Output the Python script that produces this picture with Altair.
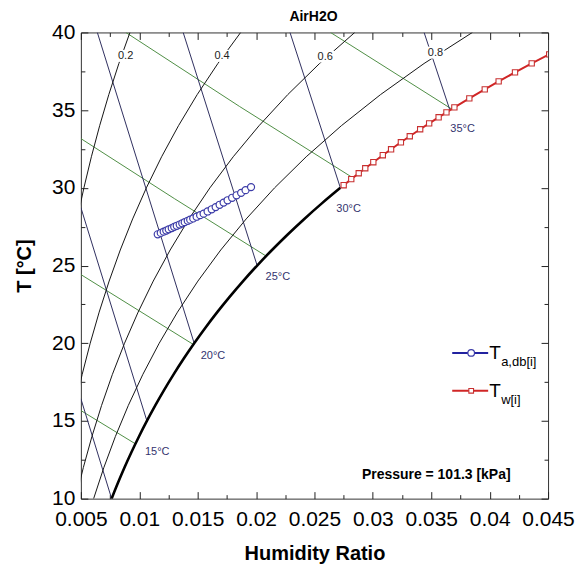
import altair as alt
import pandas as pd

FONT = "Liberation Sans"

# ---------------- data (read / estimated from the reference) ----------------
T_grid = [10, 12, 14, 16, 18, 20, 22, 24, 26, 28, 30, 32, 34, 36, 38, 40]
rh20_w = [0.001512, 0.001727, 0.001970, 0.002242, 0.002546, 0.002886, 0.003266, 0.003688,
          0.004159, 0.004681, 0.005260, 0.005900, 0.006609, 0.007391, 0.008253, 0.009203]
rh40_w = [0.003031, 0.003465, 0.003952, 0.004499, 0.005113, 0.005799, 0.006566, 0.007421,
          0.008373, 0.009433, 0.010609, 0.011914, 0.013360, 0.014960, 0.016729, 0.018683]
rh60_w = [0.004558, 0.005211, 0.005947, 0.006774, 0.007701, 0.008739, 0.009901, 0.011198,
          0.012645, 0.014257, 0.016050, 0.018044, 0.020257, 0.022713, 0.025435, 0.028452]
rh80_w = [0.006092, 0.006968, 0.007955, 0.009064, 0.010310, 0.011707, 0.013271, 0.015021,
          0.016975, 0.019155, 0.021586, 0.024293, 0.027306, 0.030657, 0.034382, 0.038524]

sat_T = [10, 11, 12, 13, 14, 15, 16, 17, 18, 19, 20, 21, 22, 23, 24, 25, 26, 27, 28, 29, 30]
sat_w = [0.007634, 0.008168, 0.008734, 0.009337, 0.009976, 0.010653, 0.011372, 0.012134,
         0.012941, 0.013797, 0.014703, 0.015663, 0.016678, 0.017753, 0.018890, 0.020093,
         0.021364, 0.022709, 0.024130, 0.025632, 0.027218]

# wet-bulb lines (navy)
wb10_w, wb10_T = [0.007634, 0.005], [10, 16.43]
wb15_w, wb15_T = [0.010653, 0.005], [15, 28.73]
wb20_w, wb20_T = [0.014703, 0.006409], [20, 40]
wb25_w, wb25_T = [0.020093, 0.013758], [25, 40]
wb30_w, wb30_T = [0.027218, 0.022905], [30, 40]
wb35_w, wb35_T = [0.036597, 0.034386], [35, 40]

# specific-volume lines (green)
v0825_w, v0825_T = [0.005, 0.00966], [15.67, 13.53]
v0850_w, v0850_T = [0.005, 0.01463], [24.42, 19.92]
v0875_w, v0875_T = [0.005, 0.013, 0.02086], [33.17, 29.31, 25.61]
v0900_w, v0900_T = [0.008848, 0.0186, 0.02830], [40, 35.23, 30.64]
v0925_w, v0925_T = [0.026372, 0.03675], [40, 35.07]

# series T_a,db[i]
blue_w = [0.01158, 0.01184, 0.01209, 0.01231, 0.01252, 0.01278, 0.01299, 0.01321, 0.01346,
          0.01368, 0.01389, 0.01415, 0.01436, 0.01462, 0.01491, 0.01521, 0.01551, 0.01585,
          0.01620, 0.01654, 0.01688, 0.01722, 0.01756, 0.01795, 0.01833, 0.01872, 0.01910,
          0.01957]
blue_T = [27.01, 27.10, 27.18, 27.25, 27.33, 27.41, 27.49, 27.56, 27.64, 27.72, 27.79, 27.88,
          27.95, 28.03, 28.14, 28.24, 28.34, 28.48, 28.62, 28.76, 28.91, 29.05, 29.20, 29.36,
          29.52, 29.68, 29.85, 30.05]

# series T_w[i]
red_T = [30.17, 30.56, 30.94, 31.26, 31.65, 32.10, 32.48, 32.93, 33.32, 33.77, 34.15, 34.54,
         34.86, 35.18, 35.76, 36.34, 36.85, 37.43, 38.01, 38.59]
red_w = [0.02750, 0.02815, 0.02879, 0.02935, 0.03004, 0.03085, 0.03156, 0.03240, 0.03316,
         0.03405, 0.03482, 0.03563, 0.03630, 0.03698, 0.03826, 0.03958, 0.04077, 0.04217,
         0.04360, 0.04510]

rh_labels = ["0.2", "0.4", "0.6", "0.8"]
rh_label_w = [0.00883, 0.01709, 0.02592, 0.03536]
rh_label_T = [38.49, 38.49, 38.45, 38.70]

wb_labels = ["15°C", "20°C", "25°C", "30°C", "35°C"]
wb_label_w = [0.01154, 0.01631, 0.02186, 0.02792, 0.03768]
wb_label_T = [12.99, 19.17, 24.23, 28.62, 33.76]

x_major = [0.005, 0.01, 0.015, 0.02, 0.025, 0.03, 0.035, 0.04, 0.045]
x_minor = [0.0075, 0.0125, 0.0175, 0.0225, 0.0275, 0.0325, 0.0375, 0.0425]
y_major = [10, 15, 20, 25, 30, 35, 40]
y_minor = [12.5, 17.5, 22.5, 27.5, 32.5, 37.5]


# ---------------- helpers ----------------
def curve(name, ws, ts):
    return pd.DataFrame({"w": ws, "T": ts, "curve": name, "i": list(range(len(ws)))})


xs = alt.Scale(domain=[0.005, 0.045], nice=False, zero=False)
ys = alt.Scale(domain=[10, 40], nice=False, zero=False)


def xy(ax=None, ay=None):
    return dict(x=alt.X("w:Q", scale=xs, axis=ax), y=alt.Y("T:Q", scale=ys, axis=ay))


rh_df = pd.concat([curve("rh20", rh20_w, T_grid), curve("rh40", rh40_w, T_grid),
                   curve("rh60", rh60_w, T_grid), curve("rh80", rh80_w, T_grid)])
wb_df = pd.concat([curve("wb10", wb10_w, wb10_T), curve("wb15", wb15_w, wb15_T),
                   curve("wb20", wb20_w, wb20_T), curve("wb25", wb25_w, wb25_T),
                   curve("wb30", wb30_w, wb30_T), curve("wb35", wb35_w, wb35_T)])
v_df = pd.concat([curve("v0825", v0825_w, v0825_T), curve("v0850", v0850_w, v0850_T),
                  curve("v0875", v0875_w, v0875_T), curve("v0900", v0900_w, v0900_T),
                  curve("v0925", v0925_w, v0925_T)])
sat_df = curve("sat", sat_w, sat_T)
blue_df = curve("blue", blue_w, blue_T)
red_df = curve("red", red_w, red_T)
rh_lbl_df = pd.DataFrame({"w": rh_label_w, "T": rh_label_T, "label": rh_labels})
wb_lbl_df = pd.DataFrame({"w": wb_label_w, "T": wb_label_T, "label": wb_labels})
one = pd.DataFrame({"w": [0.005], "T": [10]})

GREEN = "#4f8f45"
NAVY = "#2f2f5f"

v_lines = alt.Chart(v_df).mark_line(clip=True, color=GREEN, strokeWidth=1).encode(
    **xy(), detail="curve:N", order="i:Q")
wb_lines = alt.Chart(wb_df).mark_line(clip=True, color=NAVY, strokeWidth=1).encode(
    **xy(), detail="curve:N", order="i:Q")
rh_lines = alt.Chart(rh_df).mark_line(clip=True, color="#151515", strokeWidth=1).encode(
    **xy(), detail="curve:N", order="i:Q")
rh_boxes = alt.Chart(rh_lbl_df).mark_rect(width=18, height=12, color="white", opacity=1).encode(**xy())
rh_text = alt.Chart(rh_lbl_df).mark_text(fontSize=11, color="#222222", font=FONT).encode(
    **xy(), text="label:N")
sat_line = alt.Chart(sat_df).mark_line(clip=True, color="black", strokeWidth=2.6,
                                       interpolate="monotone").encode(**xy(), order="i:Q")
wb_text = alt.Chart(wb_lbl_df).mark_text(fontSize=11, color="#33336e", font=FONT).encode(
    **xy(), text="label:N")

blue_line = alt.Chart(blue_df).mark_line(clip=True, color="#2222a0", strokeWidth=1.5).encode(
    **xy(), order="i:Q")
blue_pts = alt.Chart(blue_df).mark_point(shape="circle", filled=True, fill="white",
                                         stroke="#3c3ca8", strokeWidth=1.2, size=50,
                                         opacity=1, clip=True).encode(**xy())
red_line = alt.Chart(red_df).mark_line(clip=True, color="#d02626", strokeWidth=2).encode(
    **xy(), order="i:Q")
red_pts = alt.Chart(red_df).mark_point(shape="square", filled=True, fill="white",
                                       stroke="#c83030", strokeWidth=1.1, size=28,
                                       opacity=1, clip=True).encode(**xy())

# manual legend, annotation and title
leg = alt.Chart(one)
leg_b_line = leg.mark_rule(color="#2222a0", strokeWidth=2).encode(
    x=alt.value(372), x2=alt.value(408), y=alt.value(321))
leg_b_pt = leg.mark_point(shape="circle", filled=True, fill="white", stroke="#3c3ca8",
                          strokeWidth=1.2, size=44, opacity=1).encode(x=alt.value(391), y=alt.value(321))
leg_b_T = leg.mark_text(text="T", fontSize=19, align="left", baseline="alphabetic",
                        font=FONT, color="black").encode(x=alt.value(409), y=alt.value(327))
leg_b_sub = leg.mark_text(text="a,db[i]", fontSize=13, align="left", baseline="alphabetic",
                          font=FONT, color="black").encode(x=alt.value(421), y=alt.value(334))
leg_r_line = leg.mark_rule(color="#d02626", strokeWidth=2).encode(
    x=alt.value(372), x2=alt.value(408), y=alt.value(359))
leg_r_pt = leg.mark_point(shape="square", filled=True, fill="white", stroke="#c83030",
                          strokeWidth=1.1, size=22, opacity=1).encode(x=alt.value(391), y=alt.value(359))
leg_r_T = leg.mark_text(text="T", fontSize=19, align="left", baseline="alphabetic",
                        font=FONT, color="black").encode(x=alt.value(409), y=alt.value(365))
leg_r_sub = leg.mark_text(text="w[i]", fontSize=13, align="left", baseline="alphabetic",
                          font=FONT, color="black").encode(x=alt.value(421), y=alt.value(372))

pressure = leg.mark_text(text="Pressure = 101.3 [kPa]", fontSize=14, fontWeight="bold",
                         align="center", baseline="middle", font=FONT, color="black").encode(
    x=alt.value(356), y=alt.value(443))
title_txt = leg.mark_text(text="AirH2O", fontSize=14, fontWeight="bold", align="center",
                          baseline="alphabetic", font=FONT, color="black").encode(
    x=alt.value(233), y=alt.value(-11))


# axes: labels/titles + inward ticks (via negative offsets)
def tick_axis(orient, values, size):
    return alt.Axis(orient=orient, values=values, labels=False, domain=False, grid=False,
                    ticks=True, tickSize=size, offset=-size, tickColor="#222222",
                    tickWidth=1, title=None, minExtent=0)


label_x = alt.Axis(orient="bottom", values=x_major, format="~g", ticks=False, tickSize=0,
                   domain=False, grid=False, labelFontSize=21, labelFont=FONT,
                   labelColor="black", labelPadding=10, labelFlush=False, labelOverlap=False,
                   title="Humidity Ratio", titleFontSize=20, titleFont=FONT,
                   titleFontWeight="bold", titleColor="black", titleX=234, titleY=61,
                   titleBaseline="alphabetic", titleAlign="center")
label_y = alt.Axis(orient="left", values=y_major, ticks=False, tickSize=0, domain=False,
                   grid=False, labelFontSize=21, labelFont=FONT, labelColor="black",
                   labelPadding=6, labelFlush=False, labelOverlap=False,
                   title="T [°C]", titleFontSize=20, titleFont=FONT, titleFontWeight="bold",
                   titleColor="black", titleX=-46, titleY=233.5, titleAngle=270,
                   titleBaseline="bottom", titleAlign="center")

carrier = alt.Chart(one).mark_point(opacity=0)
ax_main = carrier.encode(**xy(label_x, label_y))
ax_t1 = carrier.encode(**xy(tick_axis("bottom", x_major, 7), tick_axis("left", y_major, 7)))
ax_t2 = carrier.encode(**xy(tick_axis("bottom", x_minor, 4), tick_axis("left", y_minor, 4)))
ax_t3 = carrier.encode(**xy(tick_axis("top", x_major, 7), tick_axis("right", y_major, 7)))
ax_t4 = carrier.encode(**xy(tick_axis("top", x_minor, 4), tick_axis("right", y_minor, 4)))

chart = alt.layer(
    v_lines, wb_lines, rh_lines, rh_boxes, rh_text, sat_line, wb_text,
    blue_line, blue_pts, red_line, red_pts,
    leg_b_line, leg_b_pt, leg_b_T, leg_b_sub, leg_r_line, leg_r_pt, leg_r_T, leg_r_sub,
    pressure, title_txt, ax_main, ax_t1, ax_t2, ax_t3, ax_t4,
).resolve_axis(
    x="independent", y="independent"
).properties(
    width=468, height=467,
    autosize=alt.AutoSizeParams(type="none"),
    padding={"left": 73, "top": 24, "right": 30, "bottom": 66},
).configure(font=FONT).configure_view(stroke="#333333", strokeWidth=1)

chart.save("out.html", embed_options={"renderer": "svg", "actions": False})
